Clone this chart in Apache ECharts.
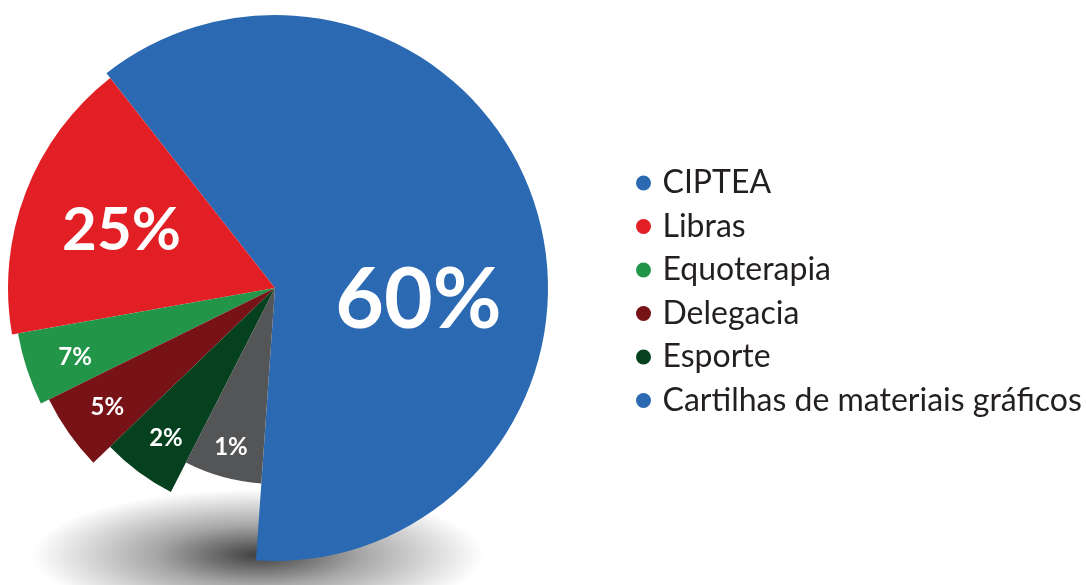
<!DOCTYPE html>
<html>
<head>
<meta charset="utf-8">
<script src="https://cdn.jsdelivr.net/npm/echarts@6/dist/echarts.min.js"></script>
<style>
    html, body {margin: 0; padding: 0; background: #fff;}
    #pieChart {width: 1086px; height: 585px;}
</style>
</head>
<body>
<div id="pieChart"></div>
<script>
// categories, as in the legend
var names = ['CIPTEA', 'Libras', 'Equoterapia', 'Delegacia', 'Esporte', 'Cartilhas de materiais gráficos'];
// percentages printed on the slices
var printedPct = [60, 25, 7, 5, 2, 1];
// share of the circle each sector really takes in the picture (the drawing does not follow the printed numbers)
var sliceShare = [61.7, 17.2, 4.5, 4.9, 5.3, 6.4];

var sliceColors = ['#2b6ab3', '#e31f26', '#229549', '#771316', '#06411f', '#545557'];
// the legend shows a blue dot for the last item
var legendColors = ['#2b6ab3', '#e31f26', '#229549', '#771316', '#06411f', '#2b6ab3'];
var sliceRadius = [273, 267, 261, 252, 229, 196];
var labelSize = [84, 60, 24, 24, 24, 24];
var labelShift = [[10, 54], [-26, -9], [-73, 28], [-62, 45], [-39, 56], [-17, 62]];

var chart = echarts.init(document.getElementById('pieChart'));

// one pie per slice so every sector can have its own radius
var series = names.map(function (name, i) {
    return {
        name: name,
        type: 'pie',
        center: [275, 288],
        radius: sliceRadius[i],
        startAngle: 266,
        clockwise: false,
        avoidLabelOverlap: false,
        silent: true,
        emphasis: {disabled: true},
        label: {
            position: 'inside',
            formatter: printedPct[i] + '%',
            color: '#fff',
            fontFamily: 'Lato',
            fontWeight: 'bold',
            fontSize: labelSize[i]
        },
        labelLine: {show: false},
        labelLayout: {dx: labelShift[i][0], dy: labelShift[i][1]},
        data: names.map(function (n, j) {
            return {
                name: n,
                value: sliceShare[j],
                itemStyle: {color: j === i ? sliceColors[j] : 'rgba(0,0,0,0)', borderWidth: 0},
                label: {show: j === i}
            };
        })
    };
});

var option = {
    animation: false,
    legend: {
        orient: 'vertical',
        left: 631,
        top: 162,
        icon: 'circle',
        itemWidth: 28,
        itemHeight: 15,
        itemGap: 11.5,
        selectedMode: false,
        textStyle: {fontFamily: 'Lato', fontSize: 32, color: '#231f20', lineHeight: 32},
        data: names.map(function (n, i) {
            return {name: n, itemStyle: {color: legendColors[i]}};
        })
    },
    graphic: [{
        // soft floor shadow under the pie
        type: 'circle',
        z: 0,
        x: 258,
        y: 555,
        scaleY: 0.29,
        shape: {cx: 0, cy: 0, r: 226},
        style: {
            fill: {
                type: 'radial', x: 0.5, y: 0.5, r: 0.5,
                colorStops: [
                    {offset: 0, color: 'rgba(0,0,0,0.75)'},
                    {offset: 0.45, color: 'rgba(0,0,0,0.35)'},
                    {offset: 1, color: 'rgba(0,0,0,0)'}
                ]
            }
        },
        silent: true
    }],
    series: series
};

chart.setOption(option);
</script>
</body>
</html>
